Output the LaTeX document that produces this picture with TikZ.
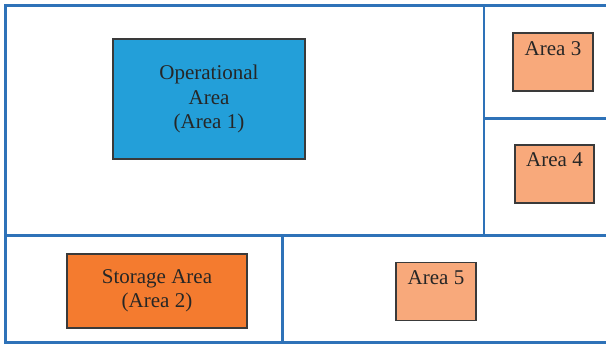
\documentclass[tikz,border=0pt]{standalone}
\usepackage{fontspec}
\setmainfont{Liberation Serif}
\definecolor{frameblue}{HTML}{2E72B8}
\definecolor{opblue}{HTML}{239FD9}
\definecolor{storeorange}{HTML}{F47B2F}
\definecolor{lightorange}{HTML}{F8A97B}
\definecolor{boxedge}{HTML}{3A3A3A}
\begin{document}
\begin{tikzpicture}[x=1pt,y=-1pt,
  wall/.style={draw=frameblue,line width=2.8pt},
  area/.style={draw=boxedge,line width=1.2pt,rectangle,inner sep=0pt,
    font=\fontsize{21}{24.5}\selectfont,text=black!85,align=center},
  toplabel/.style={label={[anchor=north,inner sep=0pt,yshift=-8.5pt,font=\fontsize{21}{24}\selectfont,text=black!85]north:#1}}]
\useasboundingbox (0,0) rectangle (606,345);
\clip (0,0) rectangle (606,345);
% walls
\coordinate (tl) at (5.5,5.5);
\coordinate (br) at (612,342.5);
\draw[wall] (tl) rectangle (br);
\coordinate (v1t) at (484,5.5);
\coordinate (v1b) at (484,235.5);
\draw[wall] (v1t) -- (v1b);
\coordinate (h1l) at (484,118.5);
\coordinate (h1r) at (612,118.5);
\draw[wall] (h1l) -- (h1r);
\coordinate (h2l) at (5.5,235.5);
\coordinate (h2r) at (612,235.5);
\draw[wall] (h2l) -- (h2r);
\coordinate (v2t) at (282.5,235.5);
\coordinate (v2b) at (282.5,342.5);
\draw[wall] (v2t) -- (v2b);
% areas
\node[area,fill=opblue,minimum width=192pt,minimum height=120pt] (a1) at (209,99) {Operational\\Area\\(Area 1)};
\node[area,fill=storeorange,minimum width=180pt,minimum height=74pt] (a2) at (157,291) {Storage Area\\(Area 2)};
\node[area,fill=lightorange,minimum width=80pt,minimum height=58pt,toplabel={Area 3}] (a3) at (553,62) {};
\node[area,fill=lightorange,minimum width=79pt,minimum height=58pt,toplabel={Area 4}] (a4) at (554.5,174) {};
\node[area,fill=lightorange,minimum width=80pt,minimum height=58pt,toplabel={Area 5}] (a5) at (436,291.5) {};
\end{tikzpicture}
\end{document}
